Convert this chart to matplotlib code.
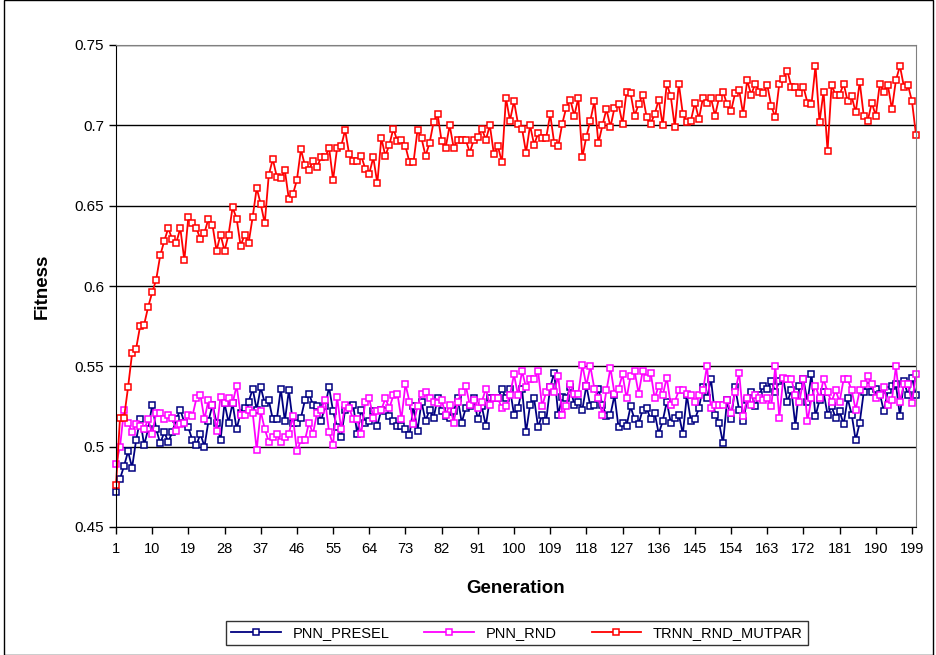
import numpy as np
import matplotlib.pyplot as plt
from matplotlib.patches import Rectangle

plt.rcParams['font.family'] = ['Liberation Sans', 'DejaVu Sans']

# Данные (поколения 1..200)
generation = np.arange(1, 201)

pnn_presel = [
    0.472, 0.480, 0.488, 0.497, 0.487, 0.504, 0.517, 0.501, 0.511, 0.526,
    0.511, 0.502, 0.509, 0.503, 0.509, 0.517, 0.523, 0.515, 0.512, 0.504,
    0.501, 0.508, 0.500, 0.516, 0.526, 0.515, 0.504, 0.527, 0.515, 0.527,
    0.511, 0.521, 0.524, 0.528, 0.536, 0.523, 0.537, 0.527, 0.529, 0.517,
    0.517, 0.536, 0.516, 0.535, 0.515, 0.515, 0.518, 0.529, 0.533, 0.526,
    0.525, 0.516, 0.525, 0.537, 0.522, 0.512, 0.506, 0.523, 0.525, 0.526,
    0.508, 0.523, 0.515, 0.516, 0.522, 0.513, 0.523, 0.522, 0.519, 0.516,
    0.513, 0.513, 0.511, 0.507, 0.525, 0.510, 0.528, 0.516, 0.523, 0.518,
    0.530, 0.522, 0.519, 0.518, 0.522, 0.530, 0.515, 0.524, 0.525, 0.530,
    0.517, 0.525, 0.513, 0.530, 0.530, 0.530, 0.536, 0.530, 0.536, 0.520,
    0.524, 0.536, 0.509, 0.526, 0.530, 0.512, 0.520, 0.516, 0.537, 0.546,
    0.520, 0.531, 0.530, 0.537, 0.526, 0.528, 0.523, 0.538, 0.525, 0.526,
    0.536, 0.526, 0.519, 0.520, 0.532, 0.512, 0.515, 0.513, 0.525, 0.517,
    0.514, 0.523, 0.524, 0.517, 0.521, 0.508, 0.516, 0.528, 0.515, 0.518,
    0.520, 0.508, 0.532, 0.516, 0.517, 0.524, 0.537, 0.530, 0.542, 0.520,
    0.515, 0.502, 0.529, 0.517, 0.537, 0.523, 0.516, 0.529, 0.534, 0.525,
    0.532, 0.538, 0.536, 0.541, 0.534, 0.541, 0.542, 0.528, 0.535, 0.513,
    0.538, 0.542, 0.528, 0.545, 0.519, 0.529, 0.534, 0.520, 0.525, 0.518,
    0.522, 0.514, 0.530, 0.520, 0.504, 0.515, 0.534, 0.538, 0.534, 0.536,
    0.533, 0.522, 0.535, 0.538, 0.539, 0.519, 0.541, 0.532, 0.543, 0.532,
]

pnn_rnd = [
    0.489, 0.500, 0.523, 0.515, 0.509, 0.514, 0.513, 0.511, 0.517, 0.508,
    0.521, 0.521, 0.517, 0.520, 0.518, 0.510, 0.514, 0.515, 0.520, 0.519,
    0.530, 0.532, 0.517, 0.529, 0.526, 0.510, 0.531, 0.527, 0.530, 0.527,
    0.538, 0.520, 0.520, 0.523, 0.521, 0.498, 0.522, 0.511, 0.503, 0.506,
    0.508, 0.503, 0.506, 0.508, 0.519, 0.497, 0.504, 0.504, 0.515, 0.508,
    0.521, 0.523, 0.529, 0.509, 0.501, 0.531, 0.511, 0.526, 0.524, 0.517,
    0.517, 0.508, 0.528, 0.530, 0.518, 0.522, 0.523, 0.530, 0.524, 0.532,
    0.533, 0.517, 0.539, 0.528, 0.514, 0.525, 0.533, 0.534, 0.530, 0.528,
    0.527, 0.529, 0.520, 0.526, 0.515, 0.528, 0.534, 0.538, 0.526, 0.529,
    0.524, 0.528, 0.536, 0.526, 0.530, 0.530, 0.524, 0.525, 0.532, 0.545,
    0.532, 0.547, 0.537, 0.542, 0.542, 0.547, 0.525, 0.534, 0.537, 0.534,
    0.544, 0.520, 0.525, 0.539, 0.533, 0.533, 0.551, 0.538, 0.550, 0.536,
    0.530, 0.520, 0.535, 0.549, 0.533, 0.536, 0.545, 0.530, 0.544, 0.547,
    0.533, 0.547, 0.543, 0.546, 0.530, 0.538, 0.532, 0.543, 0.526, 0.528,
    0.535, 0.535, 0.533, 0.532, 0.528, 0.532, 0.535, 0.550, 0.524, 0.526,
    0.526, 0.526, 0.529, 0.521, 0.534, 0.546, 0.519, 0.530, 0.526, 0.532,
    0.530, 0.529, 0.530, 0.525, 0.550, 0.518, 0.543, 0.542, 0.542, 0.532,
    0.528, 0.542, 0.516, 0.530, 0.538, 0.530, 0.542, 0.534, 0.528, 0.535,
    0.528, 0.542, 0.542, 0.535, 0.523, 0.535, 0.539, 0.544, 0.539, 0.530,
    0.532, 0.537, 0.526, 0.529, 0.550, 0.528, 0.539, 0.539, 0.527, 0.545,
]

trnn_rnd_mutpar = [
    0.476, 0.518, 0.518, 0.537, 0.558, 0.561, 0.575, 0.576, 0.587, 0.596,
    0.604, 0.619, 0.628, 0.636, 0.629, 0.627, 0.636, 0.616, 0.643, 0.639,
    0.636, 0.629, 0.633, 0.642, 0.638, 0.622, 0.632, 0.622, 0.632, 0.649,
    0.642, 0.625, 0.632, 0.627, 0.643, 0.661, 0.651, 0.639, 0.669, 0.679,
    0.668, 0.667, 0.672, 0.654, 0.657, 0.666, 0.685, 0.675, 0.672, 0.678,
    0.674, 0.680, 0.680, 0.686, 0.666, 0.686, 0.687, 0.697, 0.682, 0.678,
    0.678, 0.681, 0.673, 0.670, 0.680, 0.664, 0.692, 0.681, 0.688, 0.698,
    0.690, 0.691, 0.687, 0.677, 0.677, 0.697, 0.692, 0.681, 0.689, 0.702,
    0.707, 0.690, 0.686, 0.700, 0.686, 0.691, 0.691, 0.691, 0.683, 0.691,
    0.693, 0.698, 0.691, 0.700, 0.682, 0.687, 0.677, 0.717, 0.703, 0.715,
    0.701, 0.698, 0.683, 0.700, 0.688, 0.695, 0.692, 0.692, 0.707, 0.689,
    0.687, 0.701, 0.711, 0.716, 0.706, 0.717, 0.680, 0.693, 0.703, 0.715,
    0.689, 0.700, 0.710, 0.699, 0.711, 0.713, 0.701, 0.721, 0.720, 0.706,
    0.713, 0.719, 0.705, 0.701, 0.707, 0.716, 0.700, 0.726, 0.718, 0.699,
    0.726, 0.707, 0.702, 0.703, 0.714, 0.704, 0.717, 0.714, 0.717, 0.706,
    0.717, 0.721, 0.713, 0.709, 0.720, 0.722, 0.707, 0.728, 0.719, 0.726,
    0.721, 0.720, 0.725, 0.712, 0.705, 0.726, 0.729, 0.734, 0.724, 0.724,
    0.720, 0.724, 0.714, 0.713, 0.737, 0.702, 0.721, 0.684, 0.725, 0.719,
    0.719, 0.726, 0.715, 0.718, 0.708, 0.727, 0.706, 0.703, 0.714, 0.706,
    0.726, 0.721, 0.725, 0.710, 0.728, 0.737, 0.724, 0.725, 0.715, 0.694,
]

series_names = ['PNN_PRESEL', 'PNN_RND', 'TRNN_RND_MUTPAR']
series_colors = ['#000080', '#FF00FF', '#FF0000']
xtick_labels = list(range(1, 201, 9))

W, H = 937, 655
fig = plt.figure(figsize=(W / 100, H / 100), dpi=100)
# положение области построения в пикселях
left, right, top, bottom = 116, 916, 45, 527
ax = fig.add_axes([left / W, 1 - bottom / H, (right - left) / W, (bottom - top) / H])

for values, name, color in zip([pnn_presel, pnn_rnd, trnn_rnd_mutpar], series_names, series_colors):
    ax.plot(generation, values, color=color, lw=1.3, marker='s', ms=3.8,
            mfc='white', mec=color, mew=1.1, label=name, clip_on=False)

ax.set_xlim(1, 200)
ax.set_ylim(0.45, 0.75)
ax.set_yticks(np.arange(0.45, 0.751, 0.05))
ax.set_yticklabels(['0.45', '0.5', '0.55', '0.6', '0.65', '0.7', '0.75'], fontsize=11)
ax.set_xticks(xtick_labels)
ax.set_xticklabels([str(v) for v in xtick_labels], fontsize=10.5)
ax.tick_params(direction='out', length=5, width=1, colors='black')
ax.tick_params(axis='x', pad=6)
ax.grid(axis='y', color='black', lw=1)
ax.set_axisbelow(True)

for side in ['top', 'right']:
    ax.spines[side].set_color('#808080')
ax.spines['left'].set_color('black')
ax.spines['bottom'].set_color('black')

ax.set_xlabel('Generation', fontsize=13.5, fontweight='bold', labelpad=17)
ax.set_ylabel('Fitness', fontsize=13.5, fontweight='bold', labelpad=17)

leg = fig.legend(loc='center', bbox_to_anchor=(517 / W, 1 - 633 / H), ncol=3,
                 fontsize=10.5, frameon=True, fancybox=False, edgecolor='black',
                 handlelength=3.4, columnspacing=2.4, borderpad=0.35)
leg.get_frame().set_linewidth(1)

# рамка вокруг всей диаграммы
fig.patches.append(Rectangle((4 / W, 0), 1 - 8 / W, 1, transform=fig.transFigure,
                             fill=False, edgecolor='black', lw=1))

fig.savefig('out.png', dpi=100)
